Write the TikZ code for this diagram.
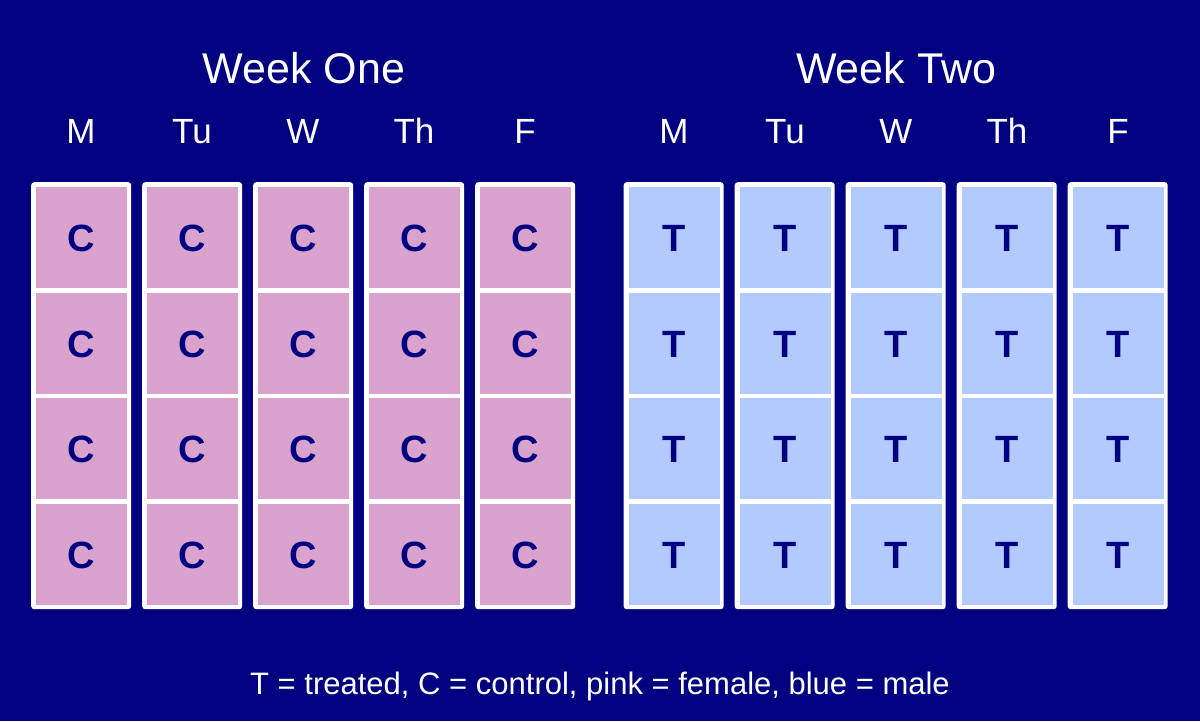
\documentclass[tikz,border=0pt]{standalone}
\usepackage{fontspec}
\setmainfont{Liberation Sans}
\definecolor{bg}{RGB}{0,0,128}
\definecolor{pinkcell}{RGB}{218,163,206}
\definecolor{bluecell}{RGB}{178,202,255}
\tikzset{
  colbox/.style={draw=none, fill=white, rounded corners=3pt, minimum width=100pt, minimum height=427pt, inner sep=0pt, anchor=north west},
  cellbox/.style={draw=none, inner sep=0pt, minimum width=91pt, minimum height=101pt, anchor=north west},
  pinkbox/.style={cellbox, fill=pinkcell},
  bluebox/.style={cellbox, fill=bluecell},
  celltext/.style={text=bg, font=\fontsize{38}{40}\selectfont\bfseries, anchor=base},
  title/.style={text=white, font=\fontsize{43}{50}\selectfont, anchor=base},
  daylabel/.style={text=white, font=\fontsize{35}{40}\selectfont, anchor=base},
  legend/.style={text=white, font=\fontsize{31}{36}\selectfont, anchor=base}
}
\begin{document}
\begin{tikzpicture}[x=1pt,y=-1pt]
\fill[bg] (0,0) rectangle (1200,721);
\useasboundingbox (0,0) rectangle (1200,721);
\node[title] (w1) at (304,83) {Week One};
\node[title] (w2) at (896,83) {Week Two};
\foreach \d [count=\i from 0] in {M,Tu,W,Th,F}{
  \node[daylabel] (d1-\i) at ({81+111*\i},143) {\d};
  \node[daylabel] (d2-\i) at ({674+111*\i},143) {\d};
  \node[colbox] (c1-\i) at ({31+111*\i},182) {};
  \node[colbox] (c2-\i) at ({623.5+111*\i},182) {};
  \foreach \r in {0,1,2,3}{
    \node[pinkbox] (p-\i-\r) at ({36+111*\i},{187+105.5*\r}) {};
    \node[celltext] (pt-\i-\r) at (p-\i-\r.center) [yshift=-14pt] {C};
    \node[bluebox] (b-\i-\r) at ({628.5+111*\i},{187+105.5*\r}) {};
    \node[celltext] (bt-\i-\r) at (b-\i-\r.center) [yshift=-14pt] {T};
  }
}
\node[legend] (leg) at (600,694) {T = treated, C = control, pink = female, blue = male};
\end{tikzpicture}
\end{document}
